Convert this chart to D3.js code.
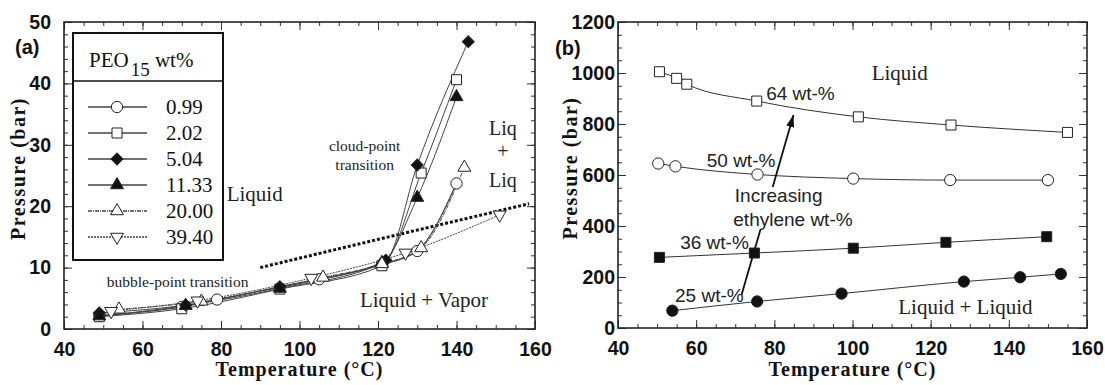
<!DOCTYPE html>
<html>
<head>
<meta charset="utf-8">
<script src="https://cdn.jsdelivr.net/npm/d3@7"></script>
<style>
  html, body { margin: 0; padding: 0; background: #fff; }
  svg { display: block; }
  .tick text { font-family: "Liberation Sans", Arial, sans-serif; font-weight: bold; font-size: 19.5px; fill: #111; }
  .serif { font-family: "Liberation Serif", "Times New Roman", serif; }
  .sans { font-family: "Liberation Sans", Arial, sans-serif; }
</style>
</head>
<body>
<svg id="chart" width="1105" height="385"></svg>
<script>
// ---- Panel (a): PEO15 in ethylene, P-T isopleths ----
const peoLabels = ["0.99", "2.02", "5.04", "11.33", "20.00", "39.40"];
const peo099 = [[49, 2.2], [70, 3.6], [79, 4.8], [105, 8.1], [121, 10.5], [130, 12.7], [140, 23.7]];
const peo202 = [[49, 2.0], [70, 3.3], [95, 6.5], [121, 10.3], [131, 25.4], [140, 40.6]];
const peo504 = [[49, 2.6], [71, 3.9], [95, 6.9], [122, 11.2], [130, 26.7], [143, 46.8]];
const peo1133 = [[49, 2.1], [71, 3.8], [95, 6.6], [121, 10.8], [130, 21.4], [140, 37.8]];
const peo2000 = [[54, 3.2], [75, 4.5], [106, 8.4], [121, 10.6], [131, 13.2], [142, 26.3]];
const peo3940 = [[52, 2.9], [74, 4.6], [103, 8.3], [127, 12.4], [151, 18.6]];
const phaseBoundary = [[90, 10.0], [124, 15.2], [158.5, 20.4]];
const aXTicks = [40, 60, 80, 100, 120, 140, 160];
const aYTicks = [0, 10, 20, 30, 40, 50];

// ---- Panel (b): ethylene content series ----
const ethLabels = ["64 wt-%", "50 wt-%", "36 wt-%", "25 wt-%"];
const eth64 = [[50.6, 1005], [55, 979], [57.6, 956], [75.5, 890], [101.5, 828], [125.2, 796], [155, 767]];
const eth50 = [[50.3, 645], [54.7, 634], [75.7, 602], [100.2, 586], [125, 580], [150, 580]];
const eth36 = [[50.6, 277], [74.9, 294], [100.2, 313], [123.9, 336], [149.7, 358]];
const eth25 = [[53.9, 68], [75.6, 104], [97.2, 135], [128.5, 182], [142.9, 199], [153.3, 212]];
const ethArrow = [[71.6, 129], [84.9, 835]];
const bXTicks = [40, 60, 80, 100, 120, 140, 160];
const bYTicks = [0, 200, 400, 600, 800, 1000, 1200];

const svg = d3.select("#chart");

// marker shapes
const symCircle = d3.symbol().type(d3.symbolCircle).size(100);
const symSquare = d3.symbol().type(d3.symbolSquare).size(100);
const symDiamond = d3.symbol().type(d3.symbolSquare).size(72);   // drawn rotated 45°
const symTriangle = d3.symbol().type(d3.symbolTriangle).size(72);

function drawMarker(g, sym, x, y, filled, rotate) {
  g.append("path")
    .attr("d", sym())
    .attr("transform", `translate(${x},${y})` + (rotate ? ` rotate(${rotate})` : ""))
    .attr("fill", filled ? "#111" : "#fff")
    .attr("stroke", "#222")
    .attr("stroke-width", 1);
}

function frameAxes(g, x, y, opts) {
  const [x0, x1] = x.range();
  const [y0, y1] = y.range();
  const minorX = d3.range(x.domain()[0], x.domain()[1] + 0.001, opts.xMinor);
  const minorY = d3.range(y.domain()[0], y.domain()[1] + 0.001, opts.yMinor);

  g.append("g").attr("transform", `translate(0,${y0})`)
    .call(d3.axisBottom(x).tickValues(opts.xTicks).tickSize(-8).tickPadding(13).tickFormat(d3.format("d")));
  g.append("g").attr("transform", `translate(0,${y0})`)
    .call(d3.axisBottom(x).tickValues(minorX).tickSize(-4).tickFormat(""));
  g.append("g").attr("transform", `translate(0,${y1})`)
    .call(d3.axisTop(x).tickValues(opts.xTicks).tickSize(-8).tickFormat(""));
  g.append("g").attr("transform", `translate(0,${y1})`)
    .call(d3.axisTop(x).tickValues(minorX).tickSize(-4).tickFormat(""));

  g.append("g").attr("transform", `translate(${x0},0)`)
    .call(d3.axisLeft(y).tickValues(opts.yTicks).tickSize(-8).tickPadding(opts.yPad).tickFormat(d3.format("d")));
  g.append("g").attr("transform", `translate(${x0},0)`)
    .call(d3.axisLeft(y).tickValues(minorY).tickSize(-4).tickFormat(""));
  g.append("g").attr("transform", `translate(${x1},0)`)
    .call(d3.axisRight(y).tickValues(opts.yTicks).tickSize(-8).tickFormat(""));
  g.append("g").attr("transform", `translate(${x1},0)`)
    .call(d3.axisRight(y).tickValues(minorY).tickSize(-4).tickFormat(""));

  g.selectAll(".domain").remove();
  g.selectAll(".tick line").attr("stroke", "#333").attr("stroke-width", 1);

  g.append("rect")
    .attr("x", x0).attr("y", y1)
    .attr("width", x1 - x0).attr("height", y0 - y1)
    .attr("fill", "none").attr("stroke", "#222").attr("stroke-width", 1.6);

  // axis titles
  g.append("text").attr("class", "serif")
    .attr("x", (x0 + x1) / 2).attr("y", 376)
    .attr("text-anchor", "middle")
    .attr("font-size", 20).attr("font-weight", "bold").attr("letter-spacing", 1)
    .attr("fill", "#111")
    .text("Temperature (°C)");
  g.append("text").attr("class", "serif")
    .attr("transform", `translate(${opts.yTitleX},${(y0 + y1) / 2 - 7}) rotate(-90)`)
    .attr("text-anchor", "middle")
    .attr("font-size", 20).attr("font-weight", "bold").attr("letter-spacing", 1.5)
    .attr("fill", "#111")
    .text("Pressure (bar)");
}

// ================= Panel (a) =================
{
  const x = d3.scaleLinear().domain([40, 160]).range([64, 535]);
  const y = d3.scaleLinear().domain([0, 50]).range([329, 22]);
  const g = svg.append("g");

  const line = d3.line().x(d => x(d[0])).y(d => y(d[1])).curve(d3.curveMonotoneX);

  const series = [
    { data: peo099, sym: symCircle, filled: false, dash: null, width: 1.3 },
    { data: peo202, sym: symSquare, filled: false, dash: null, width: 1 },
    { data: peo504, sym: symDiamond, filled: true, dash: null, width: 1, rot: 45 },
    { data: peo1133, sym: symTriangle, filled: true, dash: null, width: 1 },
    { data: peo2000, sym: symTriangle, filled: false, dash: "4,1,1,1", width: 1 },
    { data: peo3940, sym: symTriangle, filled: false, dash: "2,1", width: 1, rot: 180 }
  ];

  // dotted phase boundary
  g.append("path").datum(phaseBoundary)
    .attr("d", d3.line().x(d => x(d[0])).y(d => y(d[1])).curve(d3.curveMonotoneX))
    .attr("fill", "none").attr("stroke", "#111")
    .attr("stroke-width", 3).attr("stroke-dasharray", "3,2");

  series.forEach(s => {
    g.append("path").datum(s.data).attr("d", line)
      .attr("fill", "none").attr("stroke", "#444")
      .attr("stroke-width", s.width)
      .attr("stroke-dasharray", s.dash);
  });
  series.forEach(s => {
    s.data.forEach(d => drawMarker(g, s.sym, x(d[0]), y(d[1]), s.filled, s.rot));
  });

  frameAxes(g, x, y, { xTicks: aXTicks, yTicks: aYTicks, xMinor: 5, yMinor: 2, yPad: 13, yTitleX: 25 });

  // panel tag
  g.append("text").attr("class", "sans").attr("x", 15).attr("y", 54)
    .attr("font-size", 20).attr("font-weight", "bold").attr("fill", "#111").text("(a)");

  // region labels
  const lab = (t, px, py, size, anchor) => g.append("text").attr("class", "serif")
    .attr("x", x(px)).attr("y", y(py)).attr("font-size", size)
    .attr("text-anchor", anchor || "start").attr("fill", "#222").text(t);
  lab("Liquid", 81.45, 20.85, 21);
  lab("cloud-point", 116.6, 29.0, 15.5, "middle");
  lab("transition", 116.6, 25.9, 15.5, "middle");
  lab("Liq", 151.8, 31.6, 20, "middle");
  lab("+", 151.8, 27.8, 20, "middle");
  lab("Liq", 151.8, 23.1, 20, "middle");
  lab("Liquid + Vapor", 115.4, 3.6, 21);
  lab("bubble-point transition", 50.9, 6.85, 15.5);

  // legend
  const lg = g.append("g");
  lg.append("rect").attr("x", 73).attr("y", 33).attr("width", 150).attr("height", 227)
    .attr("fill", "#fff").attr("stroke", "#111").attr("stroke-width", 2);
  lg.append("line").attr("x1", 73).attr("x2", 223).attr("y1", 81).attr("y2", 81)
    .attr("stroke", "#111").attr("stroke-width", 1.5);
  const head = lg.append("text").attr("class", "serif").attr("x", 89).attr("y", 67)
    .attr("font-size", 21).attr("fill", "#111");
  head.append("tspan").text("PEO");
  head.append("tspan").attr("dy", 9).attr("dx", 2).attr("font-size", 19).text("15");
  head.append("tspan").attr("dy", -9).text(" wt%");

  series.forEach((s, i) => {
    const cy = 107 + i * 26;
    lg.append("line").attr("x1", 88).attr("x2", 147).attr("y1", cy).attr("y2", cy)
      .attr("stroke", "#444").attr("stroke-width", 1.3).attr("stroke-dasharray", s.dash);
    drawMarker(lg, s.sym, 117, cy, s.filled, s.rot);
    lg.append("text").attr("class", "serif").attr("x", 166).attr("y", cy + 7)
      .attr("font-size", 21).attr("fill", "#111").text(peoLabels[i]);
  });
}

// ================= Panel (b) =================
{
  const x = d3.scaleLinear().domain([40, 160]).range([618, 1087]);
  const y = d3.scaleLinear().domain([0, 1200]).range([328, 22]);
  const g = svg.append("g");

  const line = d3.line().x(d => x(d[0])).y(d => y(d[1])).curve(d3.curveMonotoneX);
  const series = [
    { data: eth64, sym: symSquare, filled: false },
    { data: eth50, sym: symCircle, filled: false },
    { data: eth36, sym: symSquare, filled: true },
    { data: eth25, sym: symCircle, filled: true }
  ];

  svg.append("defs").append("marker")
    .attr("id", "arrowHead").attr("viewBox", "0 0 12 8")
    .attr("refX", 12).attr("refY", 4)
    .attr("markerWidth", 12).attr("markerHeight", 8)
    .attr("markerUnits", "userSpaceOnUse")
    .attr("orient", "auto")
    .append("path").attr("d", "M0,0 L12,4 L0,8 Z").attr("fill", "#111");

  series.forEach(s => {
    g.append("path").datum(s.data).attr("d", line)
      .attr("fill", "none").attr("stroke", "#333").attr("stroke-width", 1);
  });

  // arrow for increasing ethylene content
  g.append("line")
    .attr("x1", x(ethArrow[0][0])).attr("y1", y(ethArrow[0][1]))
    .attr("x2", x(ethArrow[1][0])).attr("y2", y(ethArrow[1][1]))
    .attr("stroke", "#111").attr("stroke-width", 1.8)
    .attr("marker-end", "url(#arrowHead)");

  series.forEach(s => {
    s.data.forEach(d => drawMarker(g, s.sym, x(d[0]), y(d[1]), s.filled));
  });

  frameAxes(g, x, y, { xTicks: bXTicks, yTicks: bYTicks, xMinor: 5, yMinor: 50, yPad: 3, yTitleX: 577 });

  g.append("text").attr("class", "sans").attr("x", 555).attr("y", 55)
    .attr("font-size", 20).attr("font-weight", "bold").attr("fill", "#111").text("(b)");

  const sans = (t, px, py) => g.append("text").attr("class", "sans")
    .attr("x", x(px)).attr("y", y(py)).attr("font-size", 19).attr("fill", "#222").text(t);
  sans(ethLabels[0], 77.9, 894);
  sans(ethLabels[1], 62.7, 631);
  sans(ethLabels[2], 55.9, 310);
  sans(ethLabels[3], 54.6, 102);

  // two-line note sits on a white patch that interrupts the arrow
  const note = g.append("g");
  const noteText = note.append("g");
  noteText.append("text").attr("class", "sans").attr("x", x(69.9)).attr("y", y(494))
    .attr("font-size", 19).attr("fill", "#222").text("Increasing");
  noteText.append("text").attr("class", "sans").attr("x", x(69.5)).attr("y", y(400))
    .attr("font-size", 19).attr("fill", "#222").text("ethylene wt-%");
  const bb = noteText.node().getBBox();
  note.insert("rect", ":first-child")
    .attr("x", bb.x - 1).attr("y", bb.y + 2).attr("width", bb.width + 2).attr("height", bb.height - 3)
    .attr("fill", "#fff");

  const serif = (t, px, py) => g.append("text").attr("class", "serif")
    .attr("x", x(px)).attr("y", y(py)).attr("font-size", 21).attr("fill", "#222").text(t);
  serif("Liquid", 104.9, 973);
  serif("Liquid + Liquid", 111.7, 55);
}
</script>
</body>
</html>
